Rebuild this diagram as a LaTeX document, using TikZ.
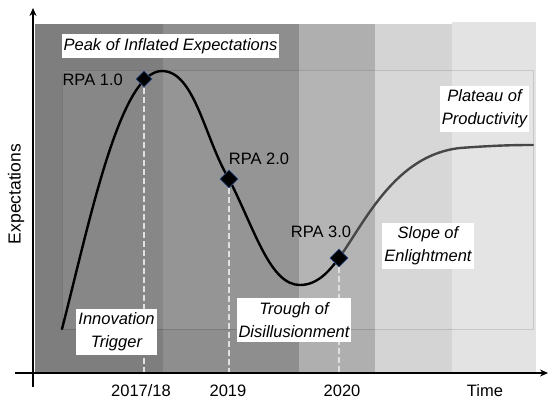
\documentclass[tikz,border=0pt]{standalone}
\usepackage{fontspec}
\setmainfont{Liberation Sans}
\usetikzlibrary{shapes.geometric,arrows.meta}
\pgfdeclarelayer{bg}
\pgfdeclarelayer{mid}
\pgfsetlayers{bg,mid,main}
\definecolor{bandA}{HTML}{7E7E7E}
\definecolor{bandB}{HTML}{8E8E8E}
\definecolor{bandC}{HTML}{AFAFAF}
\definecolor{bandD}{HTML}{D4D4D4}
\definecolor{bandE}{HTML}{E3E3E3}
\definecolor{rpaedge}{HTML}{2A4A80}
\begin{document}
\begin{tikzpicture}[x=1pt,y=-1pt,
  lbl/.style={font=\fontsize{16.5}{23}\selectfont\itshape, fill=white, inner xsep=2pt, inner ysep=4pt, align=center},
  txt/.style={font=\fontsize{16.5}{20}\selectfont, inner sep=0pt},
  rpamark/.style={diamond, fill=black, draw=rpaedge, line width=0.8pt, inner sep=0pt, minimum size=18pt},
  guide/.style={draw=white!88!black, line width=2.2pt, dash pattern=on 6pt off 3pt},
  axisline/.style={line width=1.8pt, -{Stealth[length=8pt,width=7pt]}},
  hype/.style={line width=2.4pt, line cap=round}
]
\useasboundingbox (0,0) rectangle (548,400);

% diamonds (RPA milestones)
\node[rpamark, minimum size=16pt] (r1) at (144,79) {};
\node[rpamark] (r2) at (229,179) {};
\node[rpamark] (r3) at (339,258) {};

% coordinates
\coordinate (a1) at (144,372);
\coordinate (a2) at (229,372);
\coordinate (a3) at (339,372);
\coordinate (start) at (62,329);
\coordinate (peaktop) at (162,71);
\coordinate (trough) at (300,285);
\coordinate (plat) at (460,148);
\coordinate (endc) at (533,145);
\coordinate (yb) at (33,387);
\coordinate (yt) at (33,8);
\coordinate (xl) at (15,373);
\coordinate (xr) at (548,373);

\begin{pgfonlayer}{bg}
  \fill[bandA] (35,24) rectangle (163,372);
  \fill[bandB] (163,24) rectangle (299,372);
  \fill[bandC] (299,24) rectangle (375,372);
  \fill[bandD] (375,24) rectangle (452,372);
  \fill[bandE] (452,22) rectangle (536,372);
  \fill[white, opacity=0.07] (62,70) rectangle (533,329);
  \draw[black, opacity=0.12, line width=0.6pt] (62,70) rectangle (533,329);
\end{pgfonlayer}

\begin{pgfonlayer}{mid}
  \draw[guide] (r1.center) -- (a1);
  \draw[guide] (r2.south) -- (a2);
  \draw[guide] (r3.south) -- (a3);
  \draw[hype, black] (start) .. controls (90,220) and (120,71) .. (peaktop)
     .. controls (195,71) and (205,140) .. (r2.center)
     .. controls (255,230) and (270,285) .. (trough)
     .. controls (318,285) and (330,270) .. (r3.center);
  \draw[hype, black!72] (r3.center) .. controls (365,222) and (395,155) .. (plat)
     .. controls (500,145) and (520,145) .. (endc);
\end{pgfonlayer}

% axes
\draw[axisline] (yb) -- (yt);
\draw[axisline] (xl) -- (xr);

% phase labels
\node[lbl] (peak) at (170.5,46) {Peak of Inflated Expectations};
\node[lbl] (plateau) at (484.5,109) {Plateau of\\Productivity};
\node[lbl] (slope) at (428,246) {Slope of\\Enlightment};
\node[lbl] (troughl) at (294,320) {Trough of\\Disillusionment};
\node[lbl] (innov) at (116.5,332) {Innovation\\Trigger};

% RPA labels
\node[txt, anchor=east] (t1) at (123,80) {RPA 1.0};
\node[txt] (t2) at (259,159) {RPA 2.0};
\node[txt] (t3) at (321,232) {RPA 3.0};

% axis labels
\node[txt] (x1) at (141,391) {2017/18};
\node[txt] (x2) at (228,391) {2019};
\node[txt] (x3) at (342,391) {2020};
\node[txt] (x4) at (485,391) {Time};
\node[txt, font=\fontsize{17.5}{20}\selectfont, rotate=90] (ylab) at (16,194) {Expectations};
\end{tikzpicture}
\end{document}
